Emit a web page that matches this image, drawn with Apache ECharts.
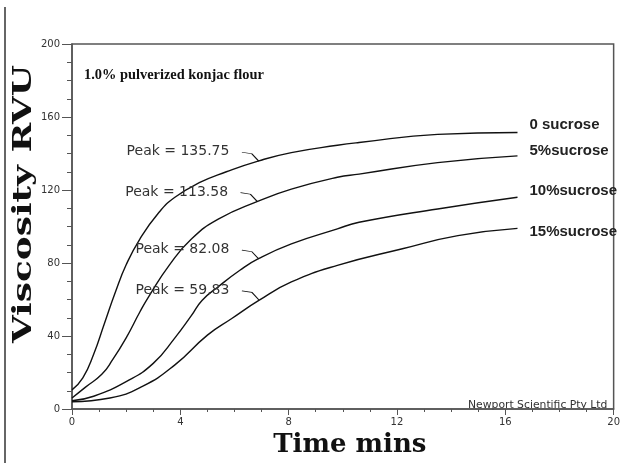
<!DOCTYPE html>
<html>
<head>
<meta charset="utf-8">
<title>Viscosity RVU</title>
<script src="https://cdn.jsdelivr.net/npm/echarts@6/dist/echarts.min.js"></script>
<style>
  html, body { margin: 0; padding: 0; background: #fff; }
  #chart { width: 623px; height: 463px; }
</style>
</head>
<body>
<div id="chart"></div>
<script>
// curves, time in mins / viscosity in RVU
var seriesNames = ['0 sucrose', '5%sucrose', '10%sucrose', '15%sucrose'];

var time0 = [0, 0.4, 0.8, 1.2, 1.6, 2.0, 2.5, 3.2, 3.8, 4.7, 5.7, 6.9, 8.1, 9.8, 10.6, 13.5, 16.45];
var visc0 = [10.5, 17, 30, 47, 64, 79, 93, 107.5, 116, 124, 130, 136, 140.5, 144.5, 146, 150.5, 151.5];

var time5 = [0, 0.5, 1.1, 1.5, 2.0, 2.5, 2.85, 3.6, 4.4, 5.4, 6.9, 8.1, 9.8, 10.6, 13.5, 16.45];
var visc5 = [6, 12, 19, 27, 39, 53, 62, 79, 93, 104, 114, 120.5, 127, 128.7, 135, 138.7];

var time10 = [0, 0.8, 2.0, 3.0, 3.8, 4.4, 4.8, 5.4, 6.2, 6.9, 8.1, 9.8, 10.6, 13.5, 16.45];
var visc10 = [4.5, 7, 15, 25, 39, 51, 59.5, 67, 76, 82.5, 90.5, 98.7, 102.3, 109.6, 116];

var time15 = [0, 1.4, 2.6, 3.8, 5.0, 5.9, 6.9, 8.1, 9.8, 12.2, 14.25, 16.45];
var visc15 = [4, 6, 12.4, 24.2, 40.5, 49.6, 59.5, 69.6, 78.7, 87.8, 95, 99];

var peakValues = [135.75, 113.58, 82.08, 59.83];
var peakTimes = [6.9, 6.85, 6.9, 6.9];
var endLabelOffsets = [[0, -8], [0, -5], [0, -6], [0, 4]];

function pairs(t, v) {
    var out = [];
    for (var i = 0; i < t.length; i++) out.push([t[i], v[i]]);
    return out;
}

var curves = [pairs(time0, visc0), pairs(time5, visc5), pairs(time10, visc10), pairs(time15, visc15)];

var myChart = echarts.init(document.getElementById('chart'));

var series = curves.map(function (data, i) {
    return {
        name: seriesNames[i],
        type: 'line',
        data: data,
        smooth: true,
        showSymbol: false,
        lineStyle: { color: '#111', width: 1.4 },
        endLabel: {
            show: true,
            formatter: '{a}',
            distance: 12,
            offset: endLabelOffsets[i],
            fontFamily: 'Liberation Sans',
            fontWeight: 'bold',
            fontSize: 15,
            color: '#222'
        },
        markPoint: {
            symbol: 'path://M0,0 L10,1.5 L17,9',
            symbolSize: [17, 9],
            symbolOffset: [-8.5, -4.5],
            itemStyle: { color: 'none', borderColor: '#111', borderWidth: 1 },
            label: {
                show: true,
                position: 'left',
                distance: 9,
                offset: [0, -5],
                formatter: 'Peak = {c}',
                fontFamily: 'DejaVu Sans',
                fontSize: 14,
                color: '#333'
            },
            data: [{ coord: [peakTimes[i], peakValues[i]], value: peakValues[i] }]
        }
    };
});

var option = {
    animation: false,
    backgroundColor: '#fff',
    title: {
        text: '1.0% pulverized konjac flour',
        left: 84,
        top: 68,
        padding: 0,
        textStyle: { fontFamily: 'Liberation Serif', fontWeight: 'bold', fontSize: 14.4, color: '#111' }
    },
    grid: {
        left: 72, right: 7, top: 44, bottom: 52,
        show: true, borderColor: '#555', borderWidth: 1.5
    },
    xAxis: {
        type: 'value',
        min: 0, max: 20, interval: 4,
        name: 'Time mins',
        nameLocation: 'middle',
        nameGap: 23,
        nameTextStyle: {
            fontFamily: 'DejaVu Serif', fontWeight: 'bold', fontSize: 26, color: '#111',
            padding: [0, 0, 0, 14]
        },
        axisLine: { lineStyle: { color: '#555', width: 1.5 } },
        axisTick: { length: 6, lineStyle: { color: '#555' } },
        minorTick: { show: true, splitNumber: 4, length: 3, lineStyle: { color: '#555' } },
        splitLine: { show: false },
        axisLabel: { margin: 8, fontFamily: 'DejaVu Sans', fontSize: 10, color: '#333' }
    },
    yAxis: {
        type: 'value',
        min: 0, max: 200, interval: 40,
        axisLine: { lineStyle: { color: '#555', width: 1.5 } },
        axisTick: { length: 10, lineStyle: { color: '#555' } },
        minorTick: { show: true, splitNumber: 4, length: 5, lineStyle: { color: '#555' } },
        splitLine: { show: false },
        axisLabel: { margin: 12, fontFamily: 'DejaVu Sans', fontSize: 10, color: '#333' }
    },
    graphic: [
        {
            type: 'line',
            shape: { x1: 5, y1: 7, x2: 5, y2: 463 },
            style: { stroke: '#666', lineWidth: 2 }
        },
        {
            // y axis title, wide lettering as on the instrument printout
            type: 'text',
            x: 24, y: 204,
            rotation: Math.PI / 2,
            scaleX: 1.38,
            style: {
                text: 'Viscosity RVU',
                fontFamily: 'DejaVu Serif', fontWeight: 'bold', fontSize: 26,
                fill: '#111', align: 'center', verticalAlign: 'middle'
            }
        },
        {
            type: 'text',
            left: 468, top: 400,
            style: { text: 'Newport Scientific Pty Ltd', fontFamily: 'DejaVu Sans', fontSize: 10.8, fill: '#333' }
        }
    ],
    series: series
};

myChart.setOption(option);
</script>
</body>
</html>
